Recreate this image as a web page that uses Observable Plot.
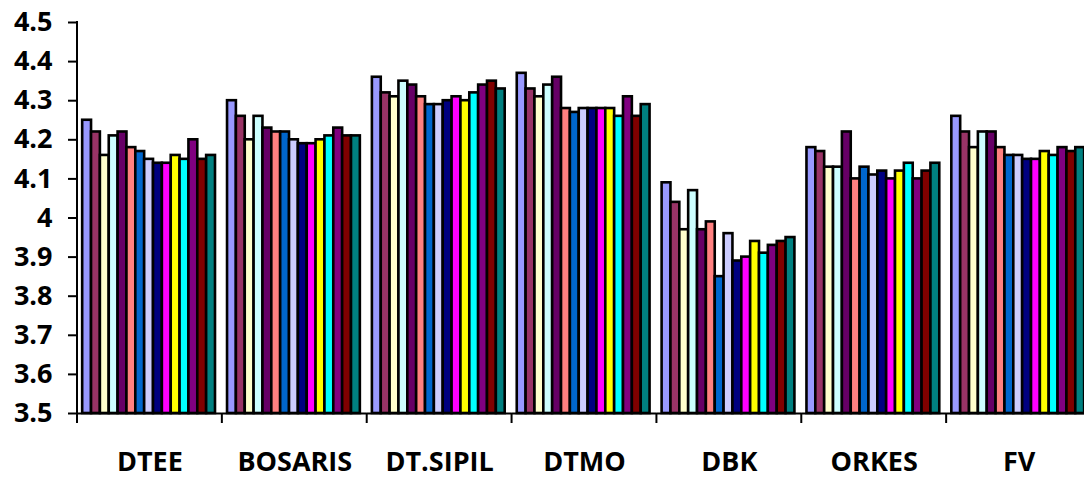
<!DOCTYPE html>
<html>
<head>
<meta charset="utf-8">
<script src="https://cdn.jsdelivr.net/npm/d3@7"></script>
<script src="https://cdn.jsdelivr.net/npm/@observablehq/plot@0.6"></script>
<style>
  html, body { margin: 0; padding: 0; background: #fff; overflow: hidden; }
</style>
</head>
<body>
<div id="chart"></div>
<script>
// ---- data ----
const groups = ["DTEE", "BOSARIS", "DT.SIPIL", "DTMO", "DBK", "ORKES", "FV"];
const series = ["S1","S2","S3","S4","S5","S6","S7","S8","S9","S10","S11","S12","S13","S14","S15"];
const colors = ["#9999FF","#993366","#FFFFCC","#CCFFFF","#660066","#FF8080","#0066CC","#CCCCFF",
                "#000080","#FF00FF","#FFFF00","#00FFFF","#800080","#800000","#008080"];

const dtee    = [4.25, 4.22, 4.16, 4.21, 4.22, 4.18, 4.17, 4.15, 4.14, 4.14, 4.16, 4.15, 4.20, 4.15, 4.16];
const bosaris = [4.30, 4.26, 4.20, 4.26, 4.23, 4.22, 4.22, 4.20, 4.19, 4.19, 4.20, 4.21, 4.23, 4.21, 4.21];
const dtsipil = [4.36, 4.32, 4.31, 4.35, 4.34, 4.31, 4.29, 4.29, 4.30, 4.31, 4.30, 4.32, 4.34, 4.35, 4.33];
const dtmo    = [4.37, 4.33, 4.31, 4.34, 4.36, 4.28, 4.27, 4.28, 4.28, 4.28, 4.28, 4.26, 4.31, 4.26, 4.29];
const dbk     = [4.09, 4.04, 3.97, 4.07, 3.97, 3.99, 3.85, 3.96, 3.89, 3.90, 3.94, 3.91, 3.93, 3.94, 3.95];
const orkes   = [4.18, 4.17, 4.13, 4.13, 4.22, 4.10, 4.13, 4.11, 4.12, 4.10, 4.12, 4.14, 4.10, 4.12, 4.14];
const fv      = [4.26, 4.22, 4.18, 4.22, 4.22, 4.18, 4.16, 4.16, 4.15, 4.15, 4.17, 4.16, 4.18, 4.17, 4.18];

const yDomain = [3.5, 4.5];
const yTicks = [3.5, 3.6, 3.7, 3.8, 3.9, 4.0, 4.1, 4.2, 4.3, 4.4, 4.5];

const valuesByGroup = [dtee, bosaris, dtsipil, dtmo, dbk, orkes, fv];
const data = groups.flatMap((g, i) =>
  series.map((s, j) => ({group: g, series: s, value: valuesByGroup[i][j]})));

// ---- chart ----
const chart = Plot.plot({
  width: 1091,
  height: 477,
  marginLeft: 77,
  marginRight: 0,
  marginTop: 22,
  marginBottom: 64,
  style: {
    fontFamily: "'Open Sans', sans-serif",
    fontSize: "27px",
    fontWeight: "bold",
    color: "#000",
    background: "#fff",
    maxWidth: "none",
    overflow: "visible"
  },
  fx: {domain: groups, padding: 0, round: false, label: null},
  x: {domain: series, paddingInner: 0, paddingOuter: 0.68, align: 0.43, round: false, axis: null},
  y: {domain: yDomain, label: null},
  color: {domain: series, range: colors},
  marks: [
    Plot.barY(data, {fx: "group", x: "series", y1: yDomain[0], y2: "value",
                     fill: "series", stroke: "#000", strokeWidth: 2.6}),
    Plot.ruleY([yDomain[0]], {stroke: "#000", strokeWidth: 2}),
    Plot.axisY(yTicks, {tickSize: 9, tickPadding: 16, strokeWidth: 2,
                        tickFormat: d3.format("~g"), label: null}),
    Plot.axisFx({anchor: "bottom", tickSize: 0, tickPadding: 38, label: null})
  ]
});

// axis line and group boundary ticks, positioned with Plot's own scales
const fxS = chart.scale("fx");
const yS = chart.scale("y");
const svg = d3.select(chart);
const x0 = fxS.apply(groups[0]);
const yTop = yS.apply(yDomain[1]);
const yBot = yS.apply(yDomain[0]);
const g = svg.append("g").attr("stroke", "#000").attr("stroke-width", 2);
g.append("line").attr("x1", x0).attr("x2", x0).attr("y1", yTop - 1).attr("y2", yBot);
const bounds = groups.map(d => fxS.apply(d))
  .concat([fxS.apply(groups[groups.length - 1]) + fxS.bandwidth]);
bounds.forEach(b => {
  g.append("line").attr("x1", b).attr("x2", b).attr("y1", yBot).attr("y2", yBot + 10);
});

document.getElementById("chart").appendChild(chart);
</script>
</body>
</html>
